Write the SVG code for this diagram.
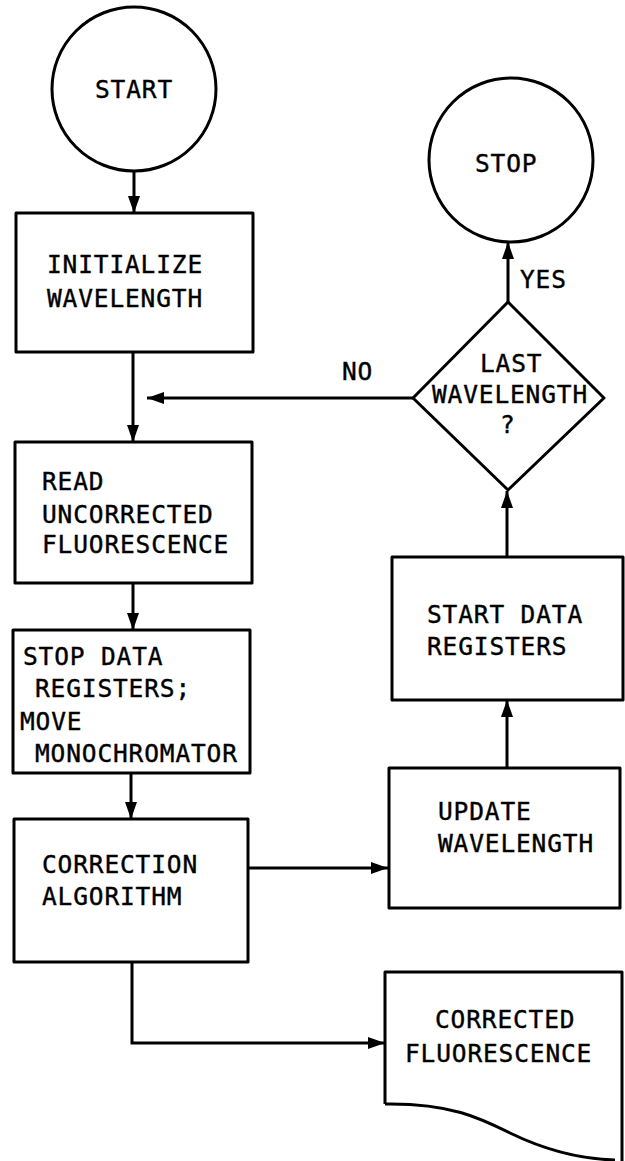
<svg xmlns="http://www.w3.org/2000/svg" width="625" height="1161" viewBox="0 0 625 1161">
  <style>
    .shape { fill: none; stroke: #000; stroke-width: 3; stroke-linejoin: round; }
    .wire { fill: none; stroke: #000; stroke-width: 3; }
    .lbl { font-family: "DejaVu Sans Mono", "Liberation Mono", monospace; font-size: 24.5px; letter-spacing: 0.85px; fill: #000; stroke: #000; stroke-width: 0.4px; }
  </style>
  <defs>
    <marker id="head" markerUnits="userSpaceOnUse" markerWidth="17" markerHeight="12" refX="17" refY="6" orient="auto">
      <path d="M0,0 L17,6 L0,12 Z" fill="#000"/>
    </marker>
  </defs>
  <rect width="625" height="1161" fill="#fff"/>

  <!-- connectors -->
  <g id="connectors">
    <line class="wire" x1="134" y1="171" x2="134" y2="213" marker-end="url(#head)"/>
    <line class="wire" x1="133" y1="352" x2="133" y2="442" marker-end="url(#head)"/>
    <line class="wire" x1="413" y1="398" x2="147" y2="398" marker-end="url(#head)"/>
    <line class="wire" x1="133" y1="583" x2="133" y2="630" marker-end="url(#head)"/>
    <line class="wire" x1="131" y1="773" x2="131" y2="819" marker-end="url(#head)"/>
    <line class="wire" x1="248" y1="868" x2="388" y2="868" marker-end="url(#head)"/>
    <line class="wire" x1="507" y1="768" x2="507" y2="700" marker-end="url(#head)"/>
    <line class="wire" x1="507" y1="557" x2="507" y2="491" marker-end="url(#head)"/>
    <line class="wire" x1="508" y1="302" x2="508" y2="242" marker-end="url(#head)"/>
    <polyline class="wire" points="132,962 132,1043 385,1043" marker-end="url(#head)"/>
    <text class="lbl" x="520" y="288">YES</text>
    <text class="lbl" x="342" y="380">NO</text>
  </g>

  <!-- terminals -->
  <g id="start">
    <circle class="shape" cx="134" cy="89" r="82"/>
    <text class="lbl" x="95" y="98">START</text>
  </g>
  <g id="stop">
    <circle class="shape" cx="511" cy="160" r="82"/>
    <text class="lbl" x="475" y="172">STOP</text>
  </g>

  <!-- decision -->
  <g id="last-wavelength">
    <polygon class="shape" points="508,302 604,398 508,490 413,398"/>
    <text class="lbl" x="480" y="372">LAST</text>
    <text class="lbl" x="432" y="403">WAVELENGTH</text>
    <text class="lbl" x="500" y="433">?</text>
  </g>

  <!-- processes -->
  <g id="initialize">
    <rect class="shape" x="16" y="213" width="237" height="139"/>
    <text class="lbl" x="47" y="273">INITIALIZE</text>
    <text class="lbl" x="47" y="307">WAVELENGTH</text>
  </g>
  <g id="read">
    <rect class="shape" x="15" y="442" width="237" height="141"/>
    <text class="lbl" x="42" y="490">READ</text>
    <text class="lbl" x="42" y="523">UNCORRECTED</text>
    <text class="lbl" x="42" y="553">FLUORESCENCE</text>
  </g>
  <g id="stop-data">
    <rect class="shape" x="13" y="630" width="237" height="143"/>
    <text class="lbl" x="23" y="665">STOP DATA</text>
    <text class="lbl" x="35" y="697">REGISTERS;</text>
    <text class="lbl" x="20" y="730">MOVE</text>
    <text class="lbl" x="35" y="762">MONOCHROMATOR</text>
  </g>
  <g id="correction">
    <rect class="shape" x="14" y="819" width="234" height="143"/>
    <text class="lbl" x="42" y="873">CORRECTION</text>
    <text class="lbl" x="42" y="905">ALGORITHM</text>
  </g>
  <g id="start-data">
    <rect class="shape" x="392" y="557" width="231" height="143"/>
    <text class="lbl" x="427" y="623">START DATA</text>
    <text class="lbl" x="427" y="655">REGISTERS</text>
  </g>
  <g id="update">
    <rect class="shape" x="389" y="768" width="231" height="140"/>
    <text class="lbl" x="438" y="820">UPDATE</text>
    <text class="lbl" x="438" y="852">WAVELENGTH</text>
  </g>

  <!-- output document -->
  <g id="corrected">
    <path class="shape" d="M385,1104 L385,972 L622,972 L622,1161 M385,1104 C450,1103 480,1118 510,1133 C545,1150 578,1159 615,1160"/>
    <text class="lbl" x="435" y="1028">CORRECTED</text>
    <text class="lbl" x="405" y="1062">FLUORESCENCE</text>
  </g>
</svg>
